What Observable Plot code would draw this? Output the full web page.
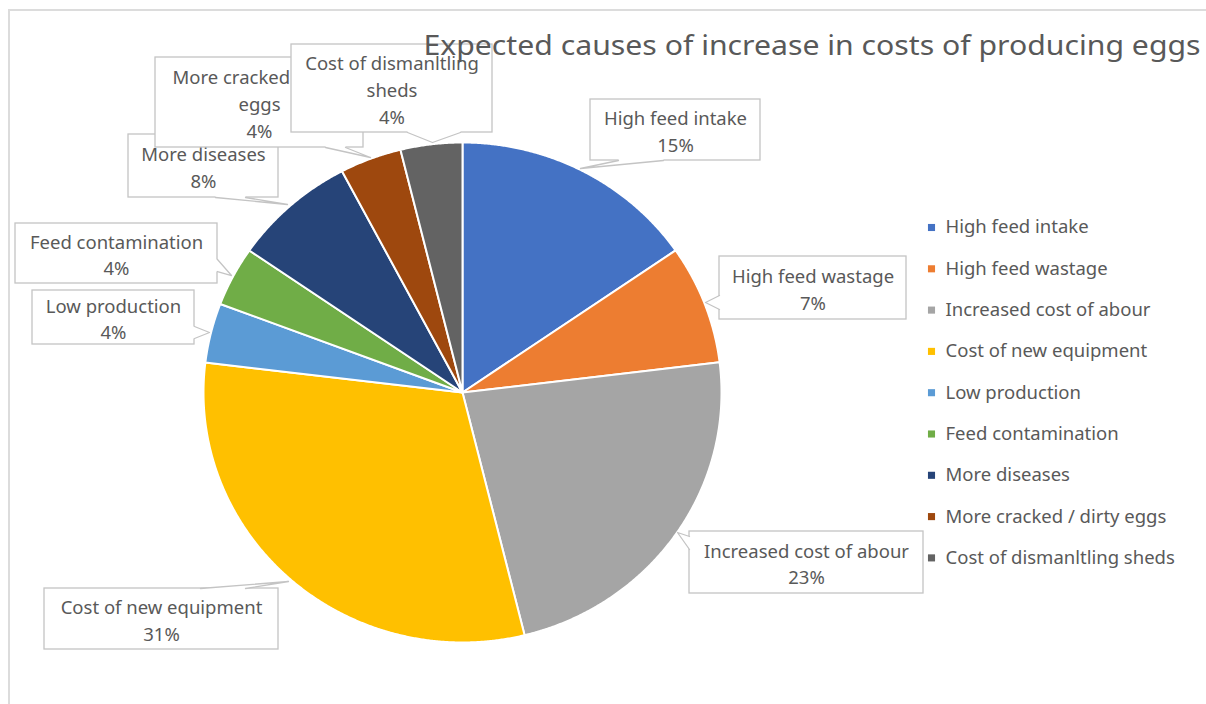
<!DOCTYPE html>
<html>
<head>
<meta charset="utf-8">
<script src="https://cdn.jsdelivr.net/npm/d3@7"></script>
<script src="https://cdn.jsdelivr.net/npm/@observablehq/plot@0.6"></script>
<style>
  body { margin: 0; background: #fff; }
  #wrap { position: relative; width: 1206px; height: 704px; overflow: hidden; }
  #frame { position: absolute; left: 8px; top: 9px; right: 0; bottom: 0;
           border-left: 2px solid #dcdcdc; border-top: 2px solid #dcdcdc; pointer-events: none; }
</style>
</head>
<body>
<div id="wrap"><div id="chart"></div><div id="frame"></div></div>
<script>
// ---------------- data ----------------
const title = "Expected causes of increase in costs of producing eggs";
const categories = [
  "High feed intake", "High feed wastage", "Increased cost of abour",
  "Cost of new equipment", "Low production", "Feed contamination",
  "More diseases", "More cracked / dirty eggs", "Cost of dismanltling sheds"
];
const shares = [15.38, 7.69, 23.08, 30.77, 3.85, 3.85, 7.69, 3.85, 3.85];
const percentLabels = ["15%", "7%", "23%", "31%", "4%", "4%", "8%", "4%", "4%"];
const calloutNames = [
  "High feed intake", "High feed wastage", "Increased cost of abour",
  "Cost of new equipment", "Low production", "Feed contamination",
  "More diseases", "More cracked / dirty\neggs", "Cost of dismanltling\nsheds"
];
const sliceColors = ["#4472C4", "#ED7D31", "#A5A5A5", "#FFC000", "#5B9BD5",
                     "#70AD47", "#264478", "#9E480E", "#636363"];

// ---------------- layout (pixels) ----------------
const pieCenter = [462, 392], pieRadius = [259, 250];
const px2x = p => (p - pieCenter[0]) / pieRadius[0];
const py2y = p => (pieCenter[1] - p) / pieRadius[1];
// callout boxes: [left, top, right, bottom]
const calloutBoxes = [
  [590, 99, 760, 160], [719, 256, 906, 319], [689, 531, 923, 593],
  [44, 588, 278, 649], [32, 290, 194, 344], [15, 223, 217, 283],
  [128, 134, 278, 197], [155, 57, 363, 147], [291, 44, 492, 132]
];
// tails: side, two base points along that side, tip
const calloutTails = [
  {side: "bottom", a: 618, b: 663, tip: [580, 168]},
  {side: "left",   a: 295, b: 309, tip: [705, 302]},
  {side: "left",   a: 536, b: 549, tip: [677, 532]},
  {side: "top",    a: 200, b: 245, tip: [288, 581]},
  {side: "right",  a: 326, b: 338, tip: [209, 332]},
  {side: "right",  a: 259, b: 271, tip: [231, 275]},
  {side: "bottom", a: 215, b: 245, tip: [287, 204]},
  {side: "bottom", a: 325, b: 345, tip: [370, 157]},
  {side: "bottom", a: 407, b: 460, tip: [432, 142]}
];
const legendX = 931, legendTextX = 945, legendTop = 227, legendStep = 41.3;
const titleX = 423, titleY = 46, titleWidth = 777;
const font = "'Noto Sans', 'Open Sans', sans-serif";
const textColor = "#595959", boxStroke = "#c4c4c4";

// ---------------- pie geometry (unit circle, clockwise from top) ----------------
const total = d3.sum(shares);
const cum = d3.cumsum(shares);
const slicePoints = [];
categories.forEach((cat, i) => {
  const a0 = (i === 0 ? 0 : cum[i - 1]) / total * 2 * Math.PI;
  const a1 = cum[i] / total * 2 * Math.PI;
  const n = Math.max(2, Math.ceil((a1 - a0) / 0.005));
  slicePoints.push({cat, x: 0, y: 0});
  for (let k = 0; k <= n; k++) {
    const a = a0 + (a1 - a0) * k / n;
    slicePoints.push({cat, x: Math.sin(a), y: Math.cos(a)});
  }
  slicePoints.push({cat, x: 0, y: 0});
});

// ---------------- marks ----------------
const marks = [
  Plot.line(slicePoints, {x: "x", y: "y", z: "cat", fill: "cat", stroke: "white",
                          strokeWidth: 2, curve: "linear-closed"})
];

calloutBoxes.forEach((box, i) => {
  const [l, t, r, b] = box;
  const tail = calloutTails[i];
  let p1, p2, in1, in2;
  const d = 3;
  if (tail.side === "bottom") { p1 = [tail.a, b]; p2 = [tail.b, b]; in1 = [tail.a, b - d]; in2 = [tail.b, b - d]; }
  if (tail.side === "top")    { p1 = [tail.a, t]; p2 = [tail.b, t]; in1 = [tail.a, t + d]; in2 = [tail.b, t + d]; }
  if (tail.side === "left")   { p1 = [l, tail.a]; p2 = [l, tail.b]; in1 = [l + d, tail.a]; in2 = [l + d, tail.b]; }
  if (tail.side === "right")  { p1 = [r, tail.a]; p2 = [r, tail.b]; in1 = [r - d, tail.a]; in2 = [r - d, tail.b]; }
  const fillPoly = [in1, p1, tail.tip, p2, in2].map(([px, py]) => ({x: px2x(px), y: py2y(py)}));
  const strokePoly = [p1, tail.tip, p2].map(([px, py]) => ({x: px2x(px), y: py2y(py)}));
  marks.push(
    Plot.rect([box], {x1: d => px2x(d[0]), x2: d => px2x(d[2]), y1: d => py2y(d[1]), y2: d => py2y(d[3]),
                      fill: "white", stroke: boxStroke, strokeWidth: 1.3}),
    Plot.line(fillPoly, {x: "x", y: "y", fill: "white", stroke: "none", curve: "linear-closed"}),
    Plot.line(strokePoly, {x: "x", y: "y", stroke: boxStroke, strokeWidth: 1.3}),
    Plot.text([i], {x: () => px2x((l + r) / 2), y: () => py2y((t + b) / 2),
                    text: j => calloutNames[j] + "\n" + percentLabels[j],
                    fontSize: 18.5, lineHeight: 1.45, fill: textColor, fontFamily: font})
  );
});

// legend
marks.push(
  Plot.dot(categories, {x: () => px2x(legendX), y: (d, i) => py2y(legendTop + i * legendStep),
                        fill: d => d, symbol: "square", r: 4}),
  Plot.text(categories, {x: () => px2x(legendTextX), y: (d, i) => py2y(legendTop + i * legendStep),
                         text: d => d, textAnchor: "start", fontSize: 18.5, fill: textColor, fontFamily: font})
);

// title
marks.push(
  Plot.text([title], {x: () => px2x(titleX), y: () => py2y(titleY), text: d => d,
                      textAnchor: "start", fontSize: 28, fill: textColor, fontFamily: font})
);

const chart = Plot.plot({
  width: 1206, height: 704, margin: 0,
  style: {fontFamily: font, background: "white"},
  x: {domain: [-1, 1], range: [pieCenter[0] - pieRadius[0], pieCenter[0] + pieRadius[0]], axis: null},
  y: {domain: [-1, 1], range: [pieCenter[1] + pieRadius[1], pieCenter[1] - pieRadius[1]], axis: null},
  color: {domain: categories, range: sliceColors},
  marks
});
document.getElementById("chart").appendChild(chart);

// fit title width to the reference
for (const t of chart.querySelectorAll("text")) {
  if (t.textContent === title) {
    t.setAttribute("textLength", titleWidth);
    t.setAttribute("lengthAdjust", "spacingAndGlyphs");
  }
}
</script>
</body>
</html>
